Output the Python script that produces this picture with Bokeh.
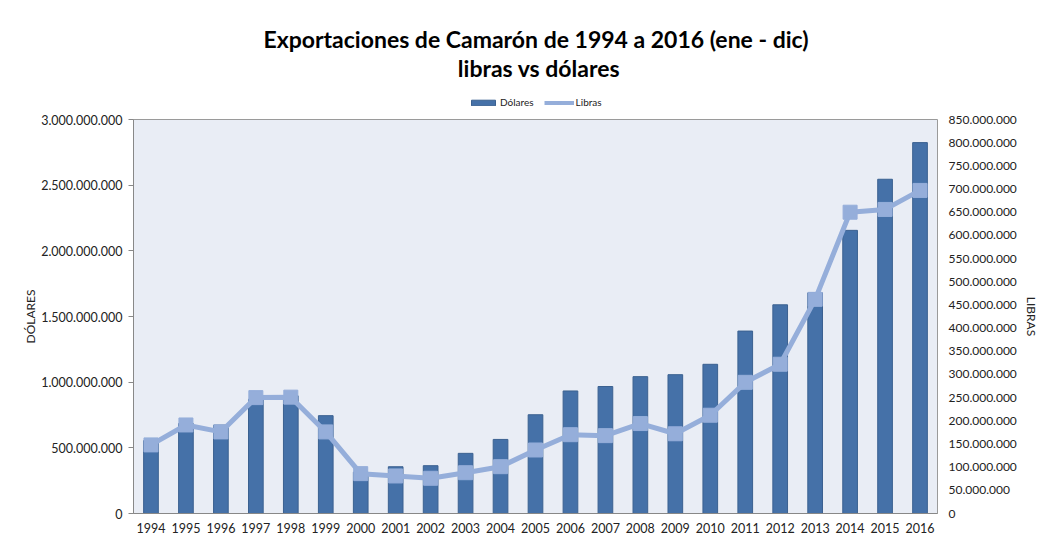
from bokeh.plotting import figure
from bokeh.layouts import column
from bokeh.models import (Range1d, LinearAxis, FixedTicker, CustomJSTickFormatter,
                          Legend, LegendItem)
from bokeh.core.properties import value
from bokeh.embed import file_html
from bokeh.resources import INLINE

years = [str(y) for y in range(1994, 2017)]
dolares = [555e6, 685e6, 673e6, 870e6, 896e6, 745e6, 315e6, 356e6, 364e6, 458e6,
           564e6, 752e6, 933e6, 967e6, 1042e6, 1057e6, 1136e6, 1389e6, 1589e6,
           1680e6, 2156e6, 2545e6, 2824e6]
libras = [148e6, 191e6, 176e6, 250e6, 251e6, 176e6, 86e6, 81e6, 76e6, 88e6,
          101e6, 137e6, 170e6, 168e6, 194e6, 172e6, 212e6, 283e6, 322e6,
          462e6, 650e6, 656e6, 697e6]
left_ticks = [0, 5e8, 1e9, 1.5e9, 2e9, 2.5e9, 3e9]
right_ticks = [i * 5e7 for i in range(18)]
title_1 = "Exportaciones de Camarón de 1994 a 2016 (ene - dic)"
title_2 = "libras vs dólares"

FONT = "Lato"
BAR = "#4571A8"
BAR_EDGE = "#3B6190"
LINE = "#95AEDA"
TXT = "#222222"
W = 1041
LEFT = 133
RIGHT = 101

# ---------- header figure (titles + legend) ----------
# its frame is aligned by the column with the chart frame below (LEFT .. W-RIGHT)
TOP_H = 113
h = figure(width=W, height=TOP_H, x_range=Range1d(LEFT, W - RIGHT),
           y_range=Range1d(TOP_H, 0),
           output_backend="svg", toolbar_location=None,
           x_axis_location=None, y_axis_location=None,
           min_border_left=LEFT, min_border_right=RIGHT,
           min_border_top=0, min_border_bottom=0)
h.grid.visible = False
h.outline_line_color = None
h.background_fill_color = "white"
h.border_fill_color = "white"
h.title.visible = False

h.text(x=[537, 540], y=[38, 67], text=[title_1, title_2],
       text_font=value(FONT), text_font_size="23px", text_font_style="bold",
       text_color="black", text_align="center", text_baseline="middle")

# proxy renderers (far out of view) so the legend can draw its swatches
d_bar = h.vbar(x=[500], top=[100010], bottom=[100000], width=1,
               fill_color=BAR, line_color=BAR_EDGE)
d_line = h.line(x=[500, 510], y=[100000, 100000], line_color=LINE, line_width=4)
d_sc = h.scatter(x=[500], y=[100000], marker="square", size=8,
                 fill_color=LINE, line_color=LINE)
legend = Legend(items=[LegendItem(label="Dólares", renderers=[d_bar]),
                       LegendItem(label="Libras", renderers=[d_line, d_sc])],
                orientation="horizontal", location=(470 - LEFT - 2, 5),
                label_text_font=FONT, label_text_font_size="10px",
                label_text_color=TXT, glyph_width=30, glyph_height=7,
                spacing=10, padding=2, margin=0, label_standoff=2,
                label_height=10, border_line_color=None, background_fill_alpha=0)
h.add_layout(legend, "center")

# ---------- main chart ----------
p = figure(width=W, height=535 - TOP_H, x_range=years, y_range=Range1d(0, 3e9),
           output_backend="svg", toolbar_location=None,
           min_border_left=LEFT, min_border_right=RIGHT, min_border_bottom=18,
           min_border_top=6)
p.extra_y_ranges = {"libras": Range1d(0, 8.5e8)}
p.title.visible = False

p.background_fill_color = "#E9EDF5"
p.border_fill_color = "white"
p.outline_line_color = "#9A9A9A"
p.xgrid.grid_line_color = None
p.ygrid.grid_line_color = None

fmt = CustomJSTickFormatter(code="""
return Math.round(tick).toString().replace(/\\B(?=(\\d{3})+(?!\\d))/g, ".");
""")

p.vbar(x=years, top=dolares, width=0.42, fill_color=BAR,
       line_color=BAR_EDGE, line_width=1)
p.line(x=years, y=libras, y_range_name="libras", line_color=LINE, line_width=5)
p.scatter(x=years, y=libras, y_range_name="libras", marker="square", size=14,
          fill_color=LINE, line_color=LINE)

ya = p.yaxis[0]
ya.ticker = FixedTicker(ticks=left_ticks)
ya.formatter = fmt
ya.axis_label = "DÓLARES"
ya.axis_label_text_font = FONT
ya.axis_label_text_font_style = "normal"
ya.axis_label_text_font_size = "12px"
ya.axis_label_text_color = TXT
ya.axis_label_standoff = 0
ya.major_label_text_font = FONT
ya.major_label_text_font_size = "12.5px"
ya.major_label_text_color = TXT
ya.axis_line_color = "#888888"
ya.major_tick_line_color = "#888888"
ya.major_tick_out = 5
ya.major_tick_in = 0
ya.minor_tick_line_color = None
ya.major_label_standoff = 6

ra = LinearAxis(y_range_name="libras", ticker=FixedTicker(ticks=right_ticks),
                formatter=fmt, axis_label="LIBRAS")
ra.axis_label_text_font = FONT
ra.axis_label_text_font_style = "normal"
ra.axis_label_text_font_size = "12px"
ra.axis_label_text_color = TXT
ra.axis_label_standoff = 4
ra.major_label_text_font = FONT
ra.major_label_text_font_size = "12px"
ra.major_label_text_color = TXT
ra.axis_line_color = None
ra.major_tick_line_color = None
ra.minor_tick_line_color = None
ra.major_label_standoff = 5
p.add_layout(ra, "right")

xa = p.xaxis[0]
xa.major_label_text_font = FONT
xa.major_label_text_font_size = "12.5px"
xa.major_label_text_color = TXT
xa.axis_line_color = "#888888"
xa.major_tick_line_color = None
xa.major_label_standoff = 3

layout = column(h, p, spacing=0)
open("out.html", "w").write(file_html(layout, INLINE))
